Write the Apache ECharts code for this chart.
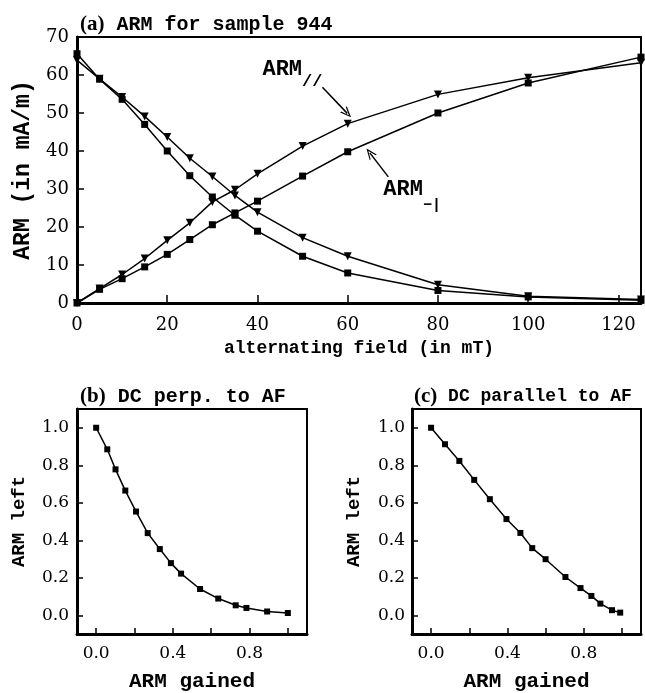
<!DOCTYPE html>
<html><head><meta charset="utf-8">
<script src="https://cdn.jsdelivr.net/npm/echarts@6/dist/echarts.min.js"></script>
<style>html,body{margin:0;padding:0;background:#fff}#c{width:645px;height:693px}</style>
</head><body><div id="c"></div>
<script>
// ---- data ----
const fieldMT = [0, 5, 10, 15, 20, 25, 30, 35, 40, 50, 60, 80, 100, 125];
const perpLeft = [65.6, 58.9, 53.6, 47.0, 40.0, 33.5, 27.9, 23.1, 18.9, 12.3, 7.9, 3.3, 1.6, 0.7];
const parLeft = [63.9, 59.0, 54.2, 49.1, 43.7, 38.1, 33.3, 28.3, 23.9, 17.2, 12.3, 4.8, 1.8, 0.9];
const parGained = [0, 3.8, 7.5, 11.7, 16.5, 21.1, 26.6, 29.8, 34.0, 41.3, 47.2, 54.9, 59.3, 63.2];
const perpGained = [0, 3.6, 6.4, 9.5, 12.8, 16.7, 20.6, 23.7, 26.8, 33.4, 39.8, 50.0, 57.9, 64.7];

const perpGainedFrac = [0, 0.058, 0.101, 0.152, 0.208, 0.269, 0.332, 0.390, 0.443, 0.542, 0.637, 0.728, 0.784, 0.892, 1.0];
const perpLeftFrac = [1.0, 0.885, 0.778, 0.665, 0.553, 0.438, 0.353, 0.278, 0.222, 0.140, 0.089, 0.053, 0.039, 0.020, 0.012];
const parGainedFrac = [0, 0.073, 0.148, 0.226, 0.308, 0.395, 0.468, 0.530, 0.600, 0.704, 0.783, 0.840, 0.887, 0.948, 0.991];
const parLeftFrac = [1.0, 0.912, 0.823, 0.722, 0.619, 0.513, 0.439, 0.358, 0.299, 0.204, 0.145, 0.103, 0.062, 0.027, 0.014];

const topXTicks = [0, 20, 40, 60, 80, 100, 120];
const topYTicks = [0, 10, 20, 30, 40, 50, 60, 70];
const fracTicks = [0, 0.2, 0.4, 0.6, 0.8, 1.0];
const fracXLabels = [0, 0.4, 0.8];
const fracYLabels = [0, 0.2, 0.4, 0.6, 0.8, 1.0];

// annotation anchors (data coordinates)
const parArrow = [[54.4, 56.8], [59.9, 49.9]];
const perpArrow = [[69.0, 33.2], [64.9, 39.5]];
const parLabelAt = [41.1, 60.2];
const perpLabelAt = [67.9, 28.2];

// ---- styles ----
const MONO = '"Liberation Mono", monospace';
const NUM = '"DejaVu Serif", serif';
const TIMES = '"Liberation Serif", serif';
const chevron = 'path://M5,0 L10,10 L8.6,10 L5,2.8 L1.4,10 L0,10 Z';

function pairs(xs, ys) { return xs.map((x, i) => [x, ys[i]]); }

function axisCommon(extra) {
  return Object.assign({
    type: 'value',
    axisLine: { onZero: false, lineStyle: { color: '#000', width: 3 } },
    splitLine: { show: false },
  }, extra);
}

const grids = [
  { left: 77, top: 37, width: 564, height: 266 },
  { left: 77, top: 409, width: 230, height: 226 },
  { left: 412, top: 409, width: 229, height: 226 }
].map(g => Object.assign(g, { show: true, borderColor: '#000', borderWidth: 2, containLabel: false }));

const chart = echarts.init(document.getElementById('c'), null, { renderer: 'canvas' });

const lineSeries = (name, xi, data, symbol, size, extra) => Object.assign({
  name, type: 'line', xAxisIndex: xi, yAxisIndex: xi, data,
  symbol, symbolSize: size, symbolRotate: symbol === 'triangle' ? 180 : 0,
  lineStyle: { color: '#000', width: 1.5 }, itemStyle: { color: '#000' },
  animation: false, silent: true, z: 3
}, extra || {});

const titleRich = (tSize) => ({
  p: { fontFamily: TIMES, fontSize: 21, color: '#000' },
  t: { fontFamily: MONO, fontWeight: 'bold', fontSize: tSize, color: '#000' }
});

chart.setOption({
  backgroundColor: '#fff',
  animation: false,
  title: [
    { left: 75, top: 9, text: '{p|(a)}{t| ARM for sample 944}', textStyle: { rich: titleRich(20) } },
    { left: 75, top: 381, text: '{p|(b)}{t| DC perp. to AF}', textStyle: { rich: titleRich(20) } },
    { left: 409, top: 381, text: '{p|(c)}{t| DC parallel to AF}', textStyle: { rich: titleRich(18) } }
  ],
  grid: grids,
  xAxis: [
    axisCommon({ gridIndex: 0, min: 0, max: 125,
      name: 'alternating field (in mT)', nameLocation: 'middle', nameGap: 36,
      nameTextStyle: { fontFamily: MONO, fontWeight: 'bold', fontSize: 18, color: '#000' },
      axisTick: { inside: true, length: 8, customValues: topXTicks, lineStyle: { color: '#000', width: 1.5 } },
      axisLabel: { customValues: topXTicks, margin: 13, fontFamily: NUM, fontSize: 18, color: '#000' } }),
    axisCommon({ gridIndex: 1, min: -0.1, max: 1.1,
      name: 'ARM gained', nameLocation: 'middle', nameGap: 37,
      nameTextStyle: { fontFamily: MONO, fontWeight: 'bold', fontSize: 21, color: '#000' },
      axisTick: { inside: true, length: 6, customValues: fracTicks, lineStyle: { color: '#000', width: 1.5 } },
      axisLabel: { customValues: fracXLabels, margin: 11, fontFamily: NUM, fontSize: 17, color: '#000', formatter: v => v.toFixed(1) } }),
    axisCommon({ gridIndex: 2, min: -0.1, max: 1.1,
      name: 'ARM gained', nameLocation: 'middle', nameGap: 37,
      nameTextStyle: { fontFamily: MONO, fontWeight: 'bold', fontSize: 21, color: '#000' },
      axisTick: { inside: true, length: 6, customValues: fracTicks, lineStyle: { color: '#000', width: 1.5 } },
      axisLabel: { customValues: fracXLabels, margin: 11, fontFamily: NUM, fontSize: 17, color: '#000', formatter: v => v.toFixed(1) } })
  ],
  yAxis: [
    axisCommon({ gridIndex: 0, min: 0, max: 70,
      name: 'ARM (in mA/m)', nameLocation: 'middle', nameGap: 38,
      nameTextStyle: { fontFamily: MONO, fontWeight: 'bold', fontSize: 23, color: '#000' },
      axisTick: { inside: true, length: 7, customValues: topYTicks, lineStyle: { color: '#000', width: 1.5 } },
      axisLabel: { customValues: topYTicks, margin: 8, fontFamily: NUM, fontSize: 18, color: '#000' } }),
    axisCommon({ gridIndex: 1, min: -0.1, max: 1.1,
      name: 'ARM left', nameLocation: 'middle', nameGap: 48,
      nameTextStyle: { fontFamily: MONO, fontWeight: 'bold', fontSize: 19, color: '#000' },
      axisTick: { inside: true, length: 6, customValues: fracTicks, lineStyle: { color: '#000', width: 1.5 } },
      axisLabel: { customValues: fracYLabels, margin: 8, fontFamily: NUM, fontSize: 17, color: '#000', formatter: v => v.toFixed(1) } }),
    axisCommon({ gridIndex: 2, min: -0.1, max: 1.1,
      name: 'ARM left', nameLocation: 'middle', nameGap: 48,
      nameTextStyle: { fontFamily: MONO, fontWeight: 'bold', fontSize: 19, color: '#000' },
      axisTick: { inside: true, length: 6, customValues: fracTicks, lineStyle: { color: '#000', width: 1.5 } },
      axisLabel: { customValues: fracYLabels, margin: 7, fontFamily: NUM, fontSize: 17, color: '#000', formatter: v => v.toFixed(1) } })
  ],
  series: [
    lineSeries('perp left', 0, pairs(fieldMT, perpLeft), 'rect', 7),
    lineSeries('par left', 0, pairs(fieldMT, parLeft), 'triangle', 8),
    lineSeries('ARM par', 0, pairs(fieldMT, parGained), 'triangle', 8, {
      markLine: { silent: true, symbol: ['none', chevron], symbolSize: [9, 11],
        lineStyle: { color: '#000', width: 1.5, type: 'solid' }, label: { show: false },
        data: [[{ coord: parArrow[0] }, { coord: parArrow[1] }]] },
      markPoint: { silent: true, symbol: 'circle', symbolSize: 0,
        data: [{ coord: parLabelAt, label: { show: true, position: 'right', distance: 0,
          formatter: '{m|ARM}{s|//}',
          rich: { m: { fontFamily: MONO, fontWeight: 'bold', fontSize: 22, color: '#000', lineHeight: 22, verticalAlign: 'top' },
                  s: { fontFamily: MONO, fontWeight: 'bold', fontSize: 17, color: '#000', lineHeight: 32, verticalAlign: 'bottom' } } } }] }
    }),
    lineSeries('ARM perp', 0, pairs(fieldMT, perpGained), 'rect', 7, {
      markLine: { silent: true, symbol: ['none', chevron], symbolSize: [9, 11],
        lineStyle: { color: '#000', width: 1.5, type: 'solid' }, label: { show: false },
        data: [[{ coord: perpArrow[0] }, { coord: perpArrow[1] }]] },
      markPoint: { silent: true, symbol: 'circle', symbolSize: 0,
        data: [{ coord: perpLabelAt, label: { show: true, position: 'right', distance: 0,
          formatter: '{m|ARM}{s|−|}',
          rich: { m: { fontFamily: MONO, fontWeight: 'bold', fontSize: 22, color: '#000', lineHeight: 22, verticalAlign: 'top' },
                  s: { fontFamily: MONO, fontWeight: 'bold', fontSize: 15, color: '#000', lineHeight: 34, verticalAlign: 'bottom' } } } }] }
    }),
    lineSeries('DC perp', 1, pairs(perpGainedFrac, perpLeftFrac), 'rect', 6),
    lineSeries('DC par', 2, pairs(parGainedFrac, parLeftFrac), 'rect', 6)
  ]
});
</script></body></html>
